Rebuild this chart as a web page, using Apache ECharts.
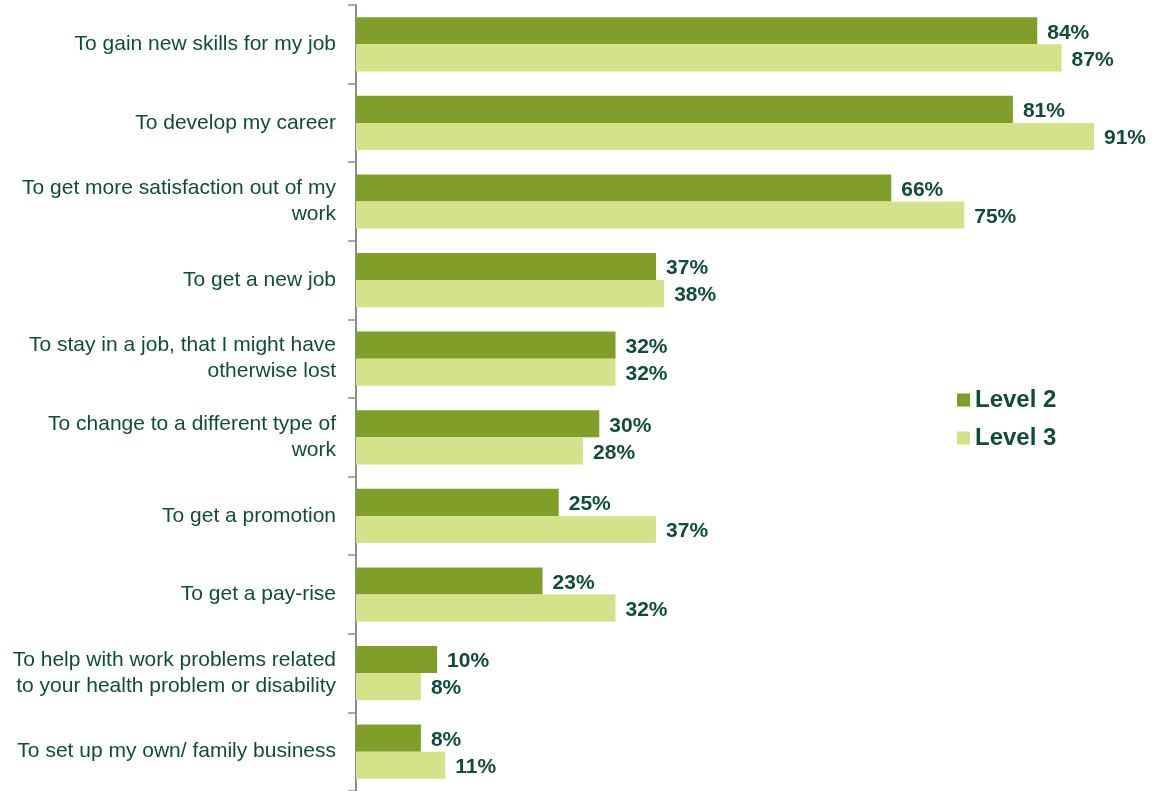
<!DOCTYPE html>
<html><head><meta charset="utf-8">
<script src="https://cdn.jsdelivr.net/npm/echarts@6/dist/echarts.min.js"></script>
<style>html,body{margin:0;padding:0;background:#fff}#c{width:1154px;height:791px}</style>
</head><body><div id="c"></div>
<script>
const categories = [
  "To gain new skills for my job",
  "To develop my career",
  "To get more satisfaction out of my\nwork",
  "To get a new job",
  "To stay in a job, that I might have\notherwise lost",
  "To change to a different type of\nwork",
  "To get a promotion",
  "To get a pay-rise",
  "To help with work problems related\nto your health problem or disability",
  "To set up my own/ family business"
];
const level2 = [84, 81, 66, 37, 32, 30, 25, 23, 10, 8];
const level3 = [87, 91, 75, 38, 32, 28, 37, 32, 8, 11];
const seriesNames = ["Level 2", "Level 3"];

const textColor = "#0e4d3c";
const ff = 'Liberation Sans, Arial, sans-serif';
const chart = echarts.init(document.getElementById('c'));
const lbl = {show:true, position:'right', distance:10, offset:[0,2], formatter:'{c}%', color:textColor,
  fontFamily:ff, fontWeight:'bold', fontSize:21};
chart.setOption({
  animation:false,
  grid:{left:356, right:60, top:5, bottom:0, containLabel:false},
  legend:{orient:'vertical', left:952, top:383, itemWidth:13, itemHeight:13, itemGap:14,
    icon:'rect',
    textStyle:{color:textColor, fontFamily:ff, fontWeight:'bold', fontSize:24},
    data:seriesNames},
  xAxis:{type:'value', min:0, max:91, show:false},
  yAxis:{type:'category', inverse:true, data:categories,
    axisLine:{lineStyle:{color:'#8a8f8c', width:2}},
    axisTick:{show:true, length:8, lineStyle:{color:'#8a8f8c', width:1.5}},
    axisLabel:{color:textColor, fontFamily:ff, fontSize:21, margin:20, align:'right', lineHeight:26,
      padding:[4,0,0,0]}},
  series:[
    {name:seriesNames[0], type:'bar', data:level2, barGap:'0%', barCategoryGap:'31%',
      itemStyle:{color:'#7f9f28'}, label:lbl},
    {name:seriesNames[1], type:'bar', data:level3, barGap:'0%', barCategoryGap:'31%',
      itemStyle:{color:'#d4e28a'}, label:lbl}
  ]
});
</script></body></html>
